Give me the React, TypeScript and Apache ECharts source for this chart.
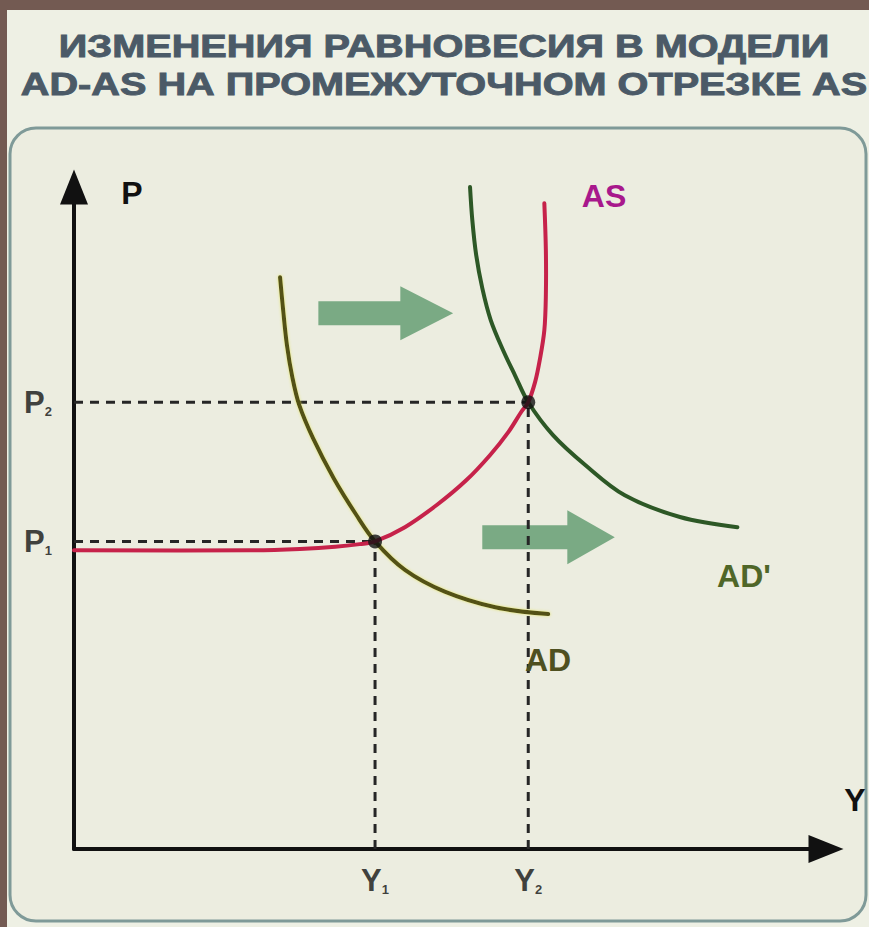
import React, { useEffect, useRef } from "react";
import * as echarts from "echarts";

// ---- data (Y = real output, P = price level) ----
const titleLines = ["ИЗМЕНЕНИЯ РАВНОВЕСИЯ В МОДЕЛИ", "AD-AS НА ПРОМЕЖУТОЧНОМ ОТРЕЗКЕ AS"];

const eqY = [3.93, 5.93]; // Y1, Y2
const eqP = [4.53, 6.58]; // P1, P2
const eqSubs = ["1", "2"];

const asY = [0, 2.3, 2.95, 3.41, 3.73, 3.93, 4.32, 4.74, 5.12, 5.43, 5.67, 5.84, 5.93, 6.02, 6.08, 6.14, 6.16, 6.16, 6.14];
const asP = [4.4, 4.4, 4.42, 4.45, 4.49, 4.53, 4.74, 5.07, 5.43, 5.8, 6.14, 6.44, 6.58, 6.88, 7.2, 7.64, 8.16, 8.82, 9.51];

const adY = [2.69, 2.73, 2.78, 2.85, 2.94, 3.12, 3.39, 3.68, 3.93, 4.32, 4.84, 5.5, 6.19];
const adP = [8.42, 7.94, 7.42, 6.95, 6.54, 6.05, 5.46, 4.93, 4.53, 4.11, 3.79, 3.56, 3.46];

const ad2Y = [5.17, 5.2, 5.25, 5.33, 5.44, 5.6, 5.76, 5.93, 6.25, 6.67, 7.19, 7.91, 8.66];
const ad2P = [9.75, 9.26, 8.75, 8.26, 7.79, 7.35, 6.97, 6.58, 6.1, 5.66, 5.21, 4.89, 4.74];

// shift arrows: [start Y, head start Y, tip Y, P level]
const shiftArrows = [
  [3.19, 4.26, 4.95, 7.89],
  [5.33, 6.44, 7.06, 4.59],
];

const curveNames = ["AS", "AD", "AD'"];

const FONT = "'Liberation Sans', Arial, sans-serif";

const zip = (a: number[], b: number[]) => a.map((v, i) => [v, b[i]]);

// a smooth curve through the data points, drawn with the axes' own scales
const curveSeries = (ys: number[], ps: number[], z: number, style: any) => ({
  type: "custom",
  z,
  data: zip(ys, ps),
  encode: { x: 0, y: 1 },
  renderItem: (params: any, api: any) => {
    if (params.dataIndex !== 0) return null;
    const pts = ys.map((y, i) => api.coord([y, ps[i]]));
    return {
      type: "polyline",
      shape: { points: pts, smooth: 0.35 },
      style: { fill: "none", lineWidth: 4, lineCap: "round", ...style },
    };
  },
});

export default function App() {
  const ref = useRef<HTMLDivElement>(null);
  useEffect(() => {
    const chart = echarts.init(ref.current!, null, { renderer: "svg" });
    const dash = { color: "#262626", width: 3, type: [9, 7] as any };
    const axisLine = {
      show: true,
      onZero: false,
      symbol: ["none", "triangle"],
      symbolSize: [28, 35],
      lineStyle: { color: "#111", width: 4 },
    };
    const option: any = {
      animation: false,
      backgroundColor: "#735a52",
      grid: { left: 74, top: 187, right: 43, bottom: 78 },
      xAxis: {
        type: "value",
        min: 0,
        max: 9.817,
        splitLine: { show: false },
        axisTick: { show: false },
        axisLabel: { show: false },
        axisLine,
      },
      yAxis: {
        type: "value",
        min: 0,
        max: 9.75,
        splitLine: { show: false },
        axisTick: { show: false },
        axisLabel: { show: false },
        axisLine,
      },
      graphic: [
        { type: "rect", z: -5, shape: { x: 7, y: 10, width: 862, height: 917 }, style: { fill: "#eef0e4" }, silent: true },
        {
          type: "rect",
          z: -4,
          shape: { x: 10, y: 128, width: 856, height: 793, r: 26 },
          style: { fill: "#ecede0", stroke: "#7f9a98", lineWidth: 3 },
          silent: true,
        },
        ...titleLines.map((t, i) => ({
          type: "text",
          z: 50,
          x: 444,
          y: 47 + i * 38,
          scaleX: 1.28,
          style: {
            text: t,
            fill: "#4b5a67",
            stroke: "#4b5a67",
            lineWidth: 0.9,
            font: `bold 31px ${FONT}`,
            align: "center",
            verticalAlign: "middle",
          },
        })),
        { type: "text", z: 50, x: 132, y: 193, style: { text: "P", fill: "#111", font: `bold 32px ${FONT}`, align: "center", verticalAlign: "middle" } },
        { type: "text", z: 50, x: 855, y: 800, style: { text: "Y", fill: "#111", font: `bold 32px ${FONT}`, align: "center", verticalAlign: "middle" } },
        { type: "text", z: 50, x: 604, y: 196, style: { text: curveNames[0], fill: "#a8188c", font: `bold 32px ${FONT}`, align: "center", verticalAlign: "middle" } },
        { type: "text", z: 50, x: 548, y: 660, style: { text: curveNames[1], fill: "#4f5020", font: `bold 32px ${FONT}`, align: "center", verticalAlign: "middle" } },
        { type: "text", z: 50, x: 744, y: 576, style: { text: curveNames[2], fill: "#4f6628", font: `bold 32px ${FONT}`, align: "center", verticalAlign: "middle" } },
      ],
      series: [
        {
          type: "custom",
          z: 1,
          data: shiftArrows,
          renderItem: (params: any, api: any) => {
            const p = api.value(3);
            const a = api.coord([api.value(0), p]);
            const h = api.coord([api.value(1), p]);
            const t = api.coord([api.value(2), p]);
            const sh = 12;
            const hh = 27;
            const cy = a[1];
            return {
              type: "polygon",
              shape: {
                points: [
                  [a[0], cy - sh],
                  [h[0], cy - sh],
                  [h[0], cy - hh],
                  [t[0], cy],
                  [h[0], cy + hh],
                  [h[0], cy + sh],
                  [a[0], cy + sh],
                ],
              },
              style: { fill: "#7aaa84" },
            };
          },
        },
        // dashed guides
        { type: "line", z: 3, symbol: "none", lineStyle: dash, data: [[0, eqP[1]], [eqY[1], eqP[1]]] },
        { type: "line", z: 3, symbol: "none", lineStyle: dash, data: [[0, eqP[0]], [eqY[0], eqP[0]]] },
        { type: "line", z: 3, symbol: "none", lineStyle: dash, data: [[eqY[0], 0], [eqY[0], eqP[0]]] },
        { type: "line", z: 3, symbol: "none", lineStyle: dash, data: [[eqY[1], 0], [eqY[1], eqP[1]]] },
        // curves
        curveSeries(adY, adP, 4, { stroke: "#525118", shadowColor: "rgba(225,225,70,0.7)", shadowBlur: 3 }),
        curveSeries(ad2Y, ad2P, 4, { stroke: "#2d5826" }),
        curveSeries(asY, asP, 5, { stroke: "#c6224a" }),
        // equilibrium points
        {
          type: "scatter",
          z: 6,
          symbolSize: 14,
          itemStyle: { color: "#111" },
          data: zip(eqY, eqP),
        },
        // P tick labels
        {
          type: "scatter",
          z: 7,
          symbolSize: 0,
          clip: false,
          data: eqP.map((p) => [0, p]),
          label: {
            show: true,
            position: "left",
            distance: 22,
            formatter: (d: any) => `{m|P}{s|${eqSubs[d.dataIndex]}}`,
            rich: {
              m: { fontFamily: FONT, fontWeight: "bold", fontSize: 31, color: "#111", verticalAlign: "bottom" },
              s: { fontFamily: FONT, fontWeight: "bold", fontSize: 13, color: "#111", verticalAlign: "bottom" },
            },
          },
        },
        // Y tick labels
        {
          type: "scatter",
          z: 7,
          symbolSize: 0,
          clip: false,
          data: eqY.map((y) => [y, 0]),
          label: {
            show: true,
            position: "bottom",
            distance: 16,
            formatter: (d: any) => `{m|Y}{s|${eqSubs[d.dataIndex]}}`,
            rich: {
              m: { fontFamily: FONT, fontWeight: "bold", fontSize: 31, color: "#111", verticalAlign: "bottom" },
              s: { fontFamily: FONT, fontWeight: "bold", fontSize: 13, color: "#111", verticalAlign: "bottom" },
            },
          },
        },
      ],
    };
    chart.setOption(option);
    return () => chart.dispose();
  }, []);
  return (
    <div
      ref={ref}
      style={{ position: "fixed", left: 0, top: 0, width: 869, height: 927 }}
    />
  );
}
